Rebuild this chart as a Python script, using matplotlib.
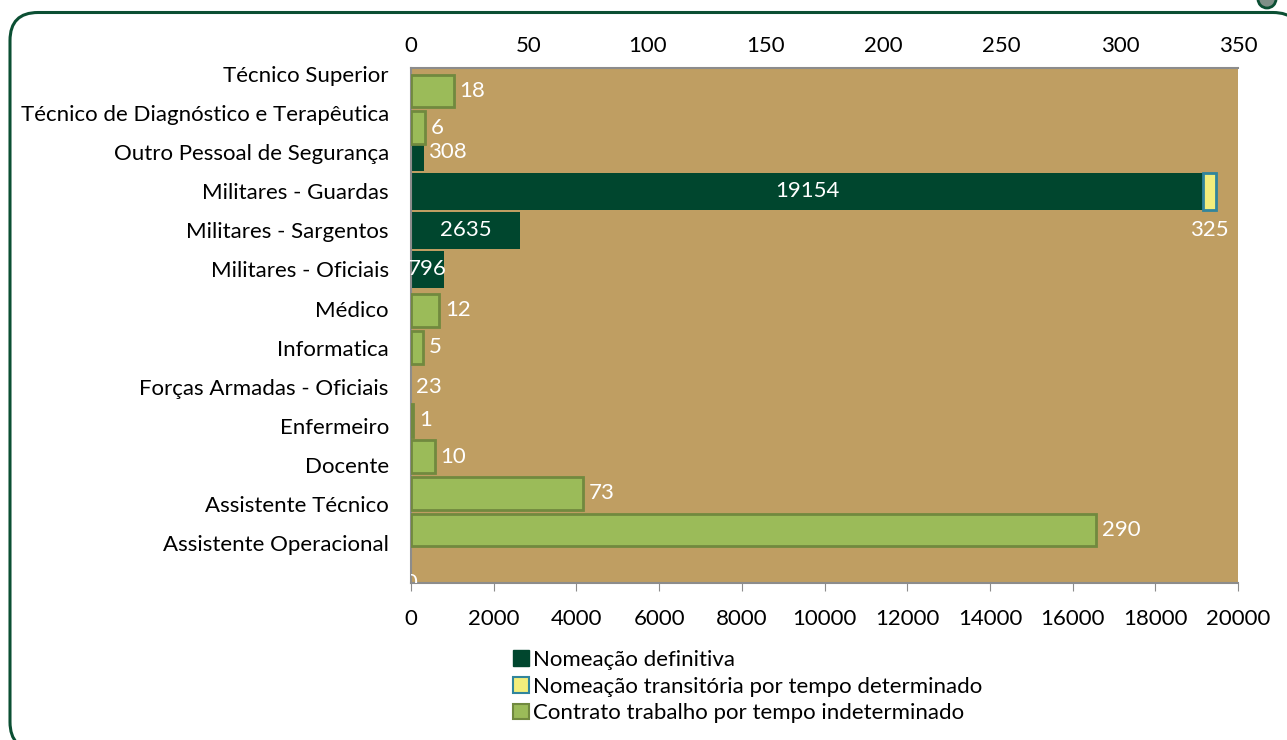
import numpy as np
import matplotlib
matplotlib.use("Agg")
import matplotlib.pyplot as plt
from matplotlib.patches import FancyBboxPatch, Circle, Patch
from matplotlib.transforms import Affine2D

categories = ["Técnico Superior", "Técnico de Diagnóstico e Terapêutica",
              "Outro Pessoal de Segurança", "Militares - Guardas",
              "Militares - Sargentos", "Militares - Oficiais", "Médico",
              "Informatica", "Forças Armadas - Oficiais", "Enfermeiro",
              "Docente", "Assistente Técnico", "Assistente Operacional"]
definitiva = [0, 0, 308, 19154, 2635, 796, 0, 0, 23, 0, 0, 0, 0]
transitoria = [0, 0, 0, 325, 0, 0, 0, 0, 0, 0, 0, 0, 0]
contrato = [18, 6, 0, 0, 0, 0, 12, 5, 0, 1, 10, 73, 290]

bottom_ticks = np.arange(0, 20001, 2000)
top_ticks = np.arange(0, 351, 50)

dark = "#00462E"
yellow = "#F2EE7C"
yellow_edge = "#31859C"
green = "#9BBB59"
green_edge = "#71893F"
tan = "#BF9E62"
grey = "#8C8C8C"

plt.rcParams['font.family'] = ['Lato', 'DejaVu Sans']
plt.rcParams['font.size'] = 16

W, H = 1287, 740
fig = plt.figure(figsize=(W / 100, H / 100), dpi=100)
pos = [411 / W, 1 - 583 / H, (1238 - 411) / W, (583 - 68) / H]

ax = fig.add_axes(pos)
ax.set_facecolor(tan)
y = np.arange(len(categories))
d = np.array(definitiva)
t = np.array(transitoria)
c = np.array(contrato)

ax.barh(y[d > 0], d[d > 0], height=0.95, color=dark, zorder=2)
ax.barh(y[t > 0], t[t > 0], left=d[t > 0], height=0.95, color=yellow,
        edgecolor=yellow_edge, linewidth=2, zorder=2)
ax.set_xlim(0, 20000)
ax.set_ylim(len(categories) + 0.02, -0.154)
ax.set_yticks(y)
ax.set_yticklabels(categories)
ax.set_xticks(bottom_ticks)
ax.tick_params(axis='y', length=0, pad=16)
ax.tick_params(axis='x', length=6, color=grey, pad=13)
for s in ['top', 'right']:
    ax.spines[s].set_visible(False)
for s in ['left', 'bottom']:
    ax.spines[s].set_color(grey)
    ax.spines[s].set_linewidth(1.5)

# labels for primary series
for i, v in enumerate(definitiva):
    if v == 0:
        continue
    w_px = v / 20000 * 827
    if w_px > 30:
        ax.text(v / 2, i, str(v), ha='center', va='center', color='white', zorder=5)
    else:
        ax.annotate(str(v), (v, i), xytext=(3, 0), textcoords='offset points',
                    ha='left', va='center', color='white', zorder=5)
for i, v in enumerate(transitoria):
    if v == 0:
        continue
    ax.text(definitiva[i] + v / 2, i + 1, str(v), ha='center', va='center',
            color='white', zorder=5)
ax.text(0, len(categories) + 0.02, "0", ha='center', va='center', color='white',
        clip_on=True, zorder=5)

# secondary axis on top
ax2 = fig.add_axes(pos)
ax2.patch.set_visible(False)
ax2.barh(y[c > 0], c[c > 0], height=0.9, color=green, edgecolor=green_edge,
         linewidth=2, zorder=3)
ax2.set_xlim(0, 350)
ax2.set_ylim(12 + (583 - 530) / 36.58, -(91 - 68) / 36.58)
ax2.set_yticks([])
ax2.set_xticks(top_ticks)
ax2.xaxis.tick_top()
ax2.tick_params(axis='x', length=0, pad=9)
for s in ['bottom', 'left', 'right']:
    ax2.spines[s].set_visible(False)
ax2.spines['top'].set_color(grey)
ax2.spines['top'].set_linewidth(1.5)
for i, v in enumerate(contrato):
    if v == 0:
        continue
    ax2.annotate(str(v), (v, i), xytext=(4, 0), textcoords='offset points',
                 ha='left', va='center', color='white', zorder=5)

handles = [Patch(facecolor=dark, edgecolor=dark),
           Patch(facecolor=yellow, edgecolor=yellow_edge, linewidth=1.5),
           Patch(facecolor=green, edgecolor=green_edge, linewidth=1.5)]
labels = ["Nomeação definitiva", "Nomeação transitória por tempo determinado",
          "Contrato trabalho por tempo indeterminado"]
fig.legend(handles, labels, loc='upper left', bbox_to_anchor=(513 / W, 1 - 650 / H),
           frameon=False, handlelength=0.7, handleheight=0.7, handletextpad=0.2,
           labelspacing=0.3, borderaxespad=0, borderpad=0)

# rounded outer frame, pixel units from top-left (white fill avoids edge clipping of curves)
px = Affine2D().scale(1 / W, -1 / H).translate(0, 1) + fig.transFigure
frame = FancyBboxPatch((10, 12.5), 1291, 737.5, boxstyle="round,pad=0,rounding_size=28",
                       transform=px, facecolor='white', edgecolor='#0B4F33',
                       linewidth=2.2, clip_on=False, zorder=-1)
fig.add_artist(frame)
fig.add_artist(Circle((1267, -1), 9, transform=px, facecolor='#7F8F87',
                      edgecolor='#0B4F33', linewidth=2, clip_on=False))

fig.savefig("out.png", dpi=100)
